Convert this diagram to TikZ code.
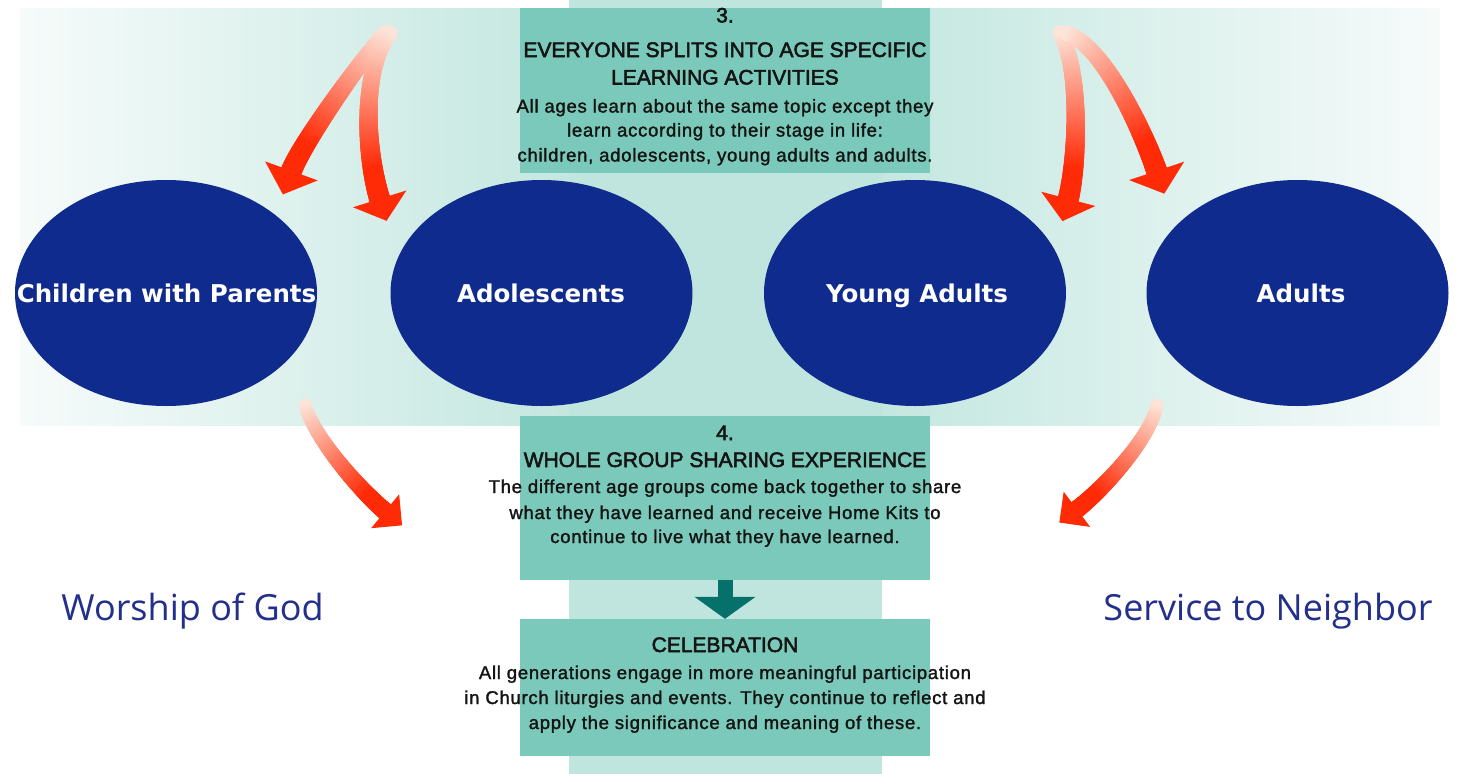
\documentclass[tikz,border=0pt]{standalone}
\usepackage{fontspec}
\setmainfont{Liberation Sans}
\newfontfamily\headfont[FakeBold=2.5]{Liberation Sans}
\newfontfamily\bodyfont[LetterSpace=4,FakeBold=1.6]{Liberation Sans}
\newfontfamily\ellfont{DejaVu Sans}
\newfontfamily\sidefont{Open Sans}
\usetikzlibrary{decorations.markings,arrows.meta,shapes.geometric}
\definecolor{boxteal}{HTML}{7BC9BA}
\definecolor{colteal}{HTML}{C0E5DE}
\definecolor{bandteal}{HTML}{C4E7E0}
\definecolor{bandedge}{HTML}{F6FBFA}
\definecolor{navy}{HTML}{102B8E}
\definecolor{darkteal}{HTML}{06706A}
\definecolor{sideblue}{HTML}{22308C}
\definecolor{arrpink}{HTML}{FDE4D8}
\definecolor{arrred}{HTML}{FF2A06}
\definecolor{txt}{HTML}{141414}
\tikzset{
  boxnode/.style={rectangle, fill=boxteal, draw=none, inner sep=0pt, minimum width=410pt},
  ellip/.style={ellipse, fill=navy, draw=none, inner sep=0pt, minimum width=302pt, minimum height=226pt},
  elltext/.style={font=\ellfont\bfseries\fontsize{24.5}{28}\selectfont, text=white, inner sep=0pt, anchor=base},
  headtxt/.style={font=\headfont\fontsize{21}{25}\selectfont, text=txt, anchor=base, inner sep=0pt},
  bodytxt/.style={font=\bodyfont\fontsize{18.5}{22}\selectfont, text=txt, anchor=base, inner sep=0pt},
  sidetxt/.style={font=\sidefont\fontsize{36}{40}\selectfont, text=sideblue, anchor=base, inner sep=0pt},
  redbody/.style={decorate, decoration={markings,
    mark=at position 0 with {\fill[arrpink] (0,0) circle[radius=0.75*#1pt];},
    mark=between positions 0 and 1 step 0.5pt with {%
      \pgfmathsetmacro\fr{(\pgfkeysvalueof{/pgf/decoration/mark info/distance from start})/(\pgfdecoratedpathlength)}%
      \pgfmathtruncatemacro\rp{min(100,125*\fr)}%
      \pgfmathsetmacro\hw{#1*(0.75+0.3*\fr)}%
      \fill[arrred!\rp!arrpink] (-0.7,-\hw) rectangle (0.7,\hw);}}},
  redhead/.style 2 args={decorate, decoration={markings,
      mark=at position 0.999 with {\fill[arrred] (-1,-#1) -- (#2,0) -- (-1,#1) -- cycle;}}}
}
\newcommand\redarr[7]{%
  \path[redbody=#5] (#1) .. controls (#2) and (#3) .. (#4);
  \path[redhead={#6}{#7}] (#1) .. controls (#2) and (#3) .. (#4);}
\begin{document}
\begin{tikzpicture}[x=1pt,y=-1pt]
\useasboundingbox (0,0) rectangle (1457,774);
\fill[white] (0,0) rectangle (1457,774);
% background band and column
\shade[left color=bandedge, right color=bandteal] (20,8) rectangle (569,425);
\shade[left color=bandteal, right color=bandedge] (882,8) rectangle (1440,425);
\fill[colteal] (569,0) rectangle (882,774);
% boxes
\node[boxnode, minimum height=165pt] (box3) at (725,90.5) {};
\node[boxnode, minimum height=164pt] (box4) at (725,498) {};
\node[boxnode, minimum height=137pt] (celeb) at (725,687.5) {};
% ellipses
\node[ellip] (child) at (166,293) {};
\node[ellip] (adol) at (541.5,293) {};
\node[ellip] (young) at (915,293) {};
\node[ellip] (adult) at (1297.5,293) {};
\node[elltext] (childl) at (166.5,302) {Children with Parents};
\node[elltext] (adoll) at (541,302) {Adolescents};
\node[elltext] (youngl) at (917,302) {Young Adults};
\node[elltext] (adultl) at (1301,302) {Adults};
% texts box 3
\node[headtxt] (t3n) at (725,22.5) {3.};
\node[headtxt] (t3a) at (725,57) {EVERYONE SPLITS INTO AGE SPECIFIC};
\node[headtxt] (t3b) at (725,84.5) {LEARNING ACTIVITIES};
\node[bodytxt] (b3a) at (725,112.5) {All ages learn about the same topic except they};
\node[bodytxt] (b3b) at (725,136.5) {learn according to their stage in life:};
\node[bodytxt] (b3c) at (725,161.5) {children, adolescents, young adults and adults.};
% texts box 4
\node[headtxt] (t4n) at (725,440) {4.};
\node[headtxt] (t4a) at (725,467) {WHOLE GROUP SHARING EXPERIENCE};
\node[bodytxt] (b4a) at (725,493) {The different age groups come back together to share};
\node[bodytxt] (b4b) at (725,519) {what they have learned and receive Home Kits to};
\node[bodytxt] (b4c) at (725,543) {continue to live what they have learned.};
% celebration
\node[headtxt] (tca) at (725,652) {CELEBRATION};
\node[bodytxt] (bca) at (725,679) {All generations engage in more meaningful participation};
\node[bodytxt] (bcb) at (725,704) {in Church liturgies and events. They continue to reflect and};
\node[bodytxt] (bcc) at (725,729) {apply the significance and meaning of these.};
% side labels
\node[sidetxt] (worship) at (192.5,620) {Worship of God};
\node[sidetxt] (service) at (1268,620) {Service to Neighbor};
% dark teal arrow
\draw[darkteal, line width=15pt, -{Triangle[width=60pt,length=22pt]}] (box4.south) -- (celeb.north);
% red arrows
\coordinate (a1s) at (385,33);   \coordinate (a1e) at (291,172);
\coordinate (a2s) at (390,33);   \coordinate (a2e) at (380,200);
\coordinate (a3s) at (1060,33);  \coordinate (a3e) at (1068,200);
\coordinate (a4s) at (1066,33);  \coordinate (a4e) at (1157,172);
\coordinate (b1s) at (305,405);  \coordinate (b1e) at (386,512);
\coordinate (b2s) at (1157,405); \coordinate (b2e) at (1076,510);
\redarr{a1s}{365,55}{301,144}{a1e}{10}{28}{24}
\redarr{a2s}{358,75}{368,162}{a2e}{10}{28}{22}
\redarr{a3s}{1082,70}{1077,166}{a3e}{10}{28}{22}
\redarr{a4s}{1105,45}{1146,139}{a4e}{10}{29}{23}
\redarr{b1s}{315,440}{363,493}{b1e}{8.5}{22}{21}
\redarr{b2s}{1150,440}{1100,492}{b2e}{8.5}{22}{21}
\end{tikzpicture}
\end{document}
